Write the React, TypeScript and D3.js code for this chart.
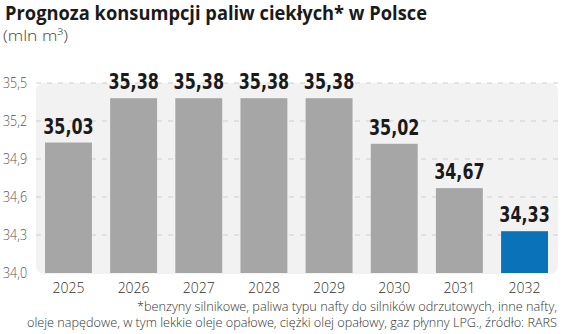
import React from "react";
import * as d3 from "d3";

const years = ["2025", "2026", "2027", "2028", "2029", "2030", "2031", "2032"];
const values = [35.03, 35.38, 35.38, 35.38, 35.38, 35.02, 34.67, 34.33];
const valueLabels = ["35,03", "35,38", "35,38", "35,38", "35,38", "35,02", "34,67", "34,33"];
const yTicks = [34.0, 34.3, 34.6, 34.9, 35.2, 35.5];
const yTickLabels = ["34,0", "34,3", "34,6", "34,9", "35,2", "35,5"];
const title = "Prognoza konsumpcji paliw ciekłych* w Polsce";
const subtitle = "(mln m³)";
const footnote = [
  "*benzyny silnikowe, paliwa typu nafty do silników odrzutowych, inne nafty,",
  "oleje napędowe, w tym lekkie oleje opałowe, ciężki olej opałowy, gaz płynny LPG., źródło: RARS",
];

const W = 564;
const H = 334;

export default function App() {
  const x = d3.scaleBand<string>().domain(years).range([45, 548]).paddingInner(0.28).paddingOuter(0);
  const y = d3.scaleLinear().domain([34.0, 35.5]).range([273, 83]);
  const valueFont = "'DejaVu Sans', sans-serif";
  const lightFont = "'Open Sans', 'Noto Sans', sans-serif";
  const footWidths = [420, 530];
  return (
    <svg width={W} height={H} style={{ position: "absolute", left: 0, top: 0, background: "#fff" }}>
      <rect x={0} y={0} width={W} height={H} fill="#fff" />
      <text x={5} y={19.5} fontFamily="'Open Sans', sans-serif" fontWeight={700} fontSize={19} fill="#1a1a1a" textLength={422} lengthAdjust="spacingAndGlyphs">
        {title}
      </text>
      <text x={3} y={41} fontFamily={lightFont} fontWeight={300} fontSize={15} fill="#444" textLength={65} lengthAdjust="spacingAndGlyphs">
        {subtitle}
      </text>
      <rect x={36} y={y(35.5)} width={522} height={y(34.0) - y(35.5) + 1} rx={8} fill="#f2f2f2" />
      {yTicks.slice(1).map((t) => (
        <line key={t} x1={36} x2={558} y1={y(t)} y2={y(t)} stroke="#cfcfcf" strokeWidth={1} strokeDasharray="5,6" />
      ))}
      {yTicks.map((t, i) => (
        <text key={t} x={3} y={y(t) + 5} fontFamily={lightFont} fontWeight={300} fontSize={14} fill="#555" textLength={24} lengthAdjust="spacingAndGlyphs">
          {yTickLabels[i]}
        </text>
      ))}
      {years.map((yr, i) => (
        <g key={yr}>
          <rect
            x={x(yr)}
            y={y(values[i])}
            width={x.bandwidth()}
            height={y(34.0) - y(values[i])}
            fill={i === years.length - 1 ? "#0a72b8" : "#a6a6a6"}
          />
          <text
            transform={`translate(${(x(yr) as number) + x.bandwidth() / 2},${y(values[i]) - 9}) scale(0.76,1)`}
            textAnchor="middle"
            fontFamily={valueFont}
            fontWeight={700}
            fontSize={21}
            fill="#1a1a1a"
          >
            {valueLabels[i]}
          </text>
          <text
            x={(x(yr) as number) + x.bandwidth() / 2}
            y={293}
            textAnchor="middle"
            fontFamily={lightFont}
            fontWeight={300}
            fontSize={14}
            fill="#333"
          >
            {yr}
          </text>
        </g>
      ))}
      {footnote.map((line, i) => (
        <text key={i} x={557 - footWidths[i]} y={311 + i * 15.5} fontFamily={lightFont} fontWeight={300} fontSize={12.5} fill="#333" textLength={footWidths[i]} lengthAdjust="spacingAndGlyphs">
          {line}
        </text>
      ))}
    </svg>
  );
}
